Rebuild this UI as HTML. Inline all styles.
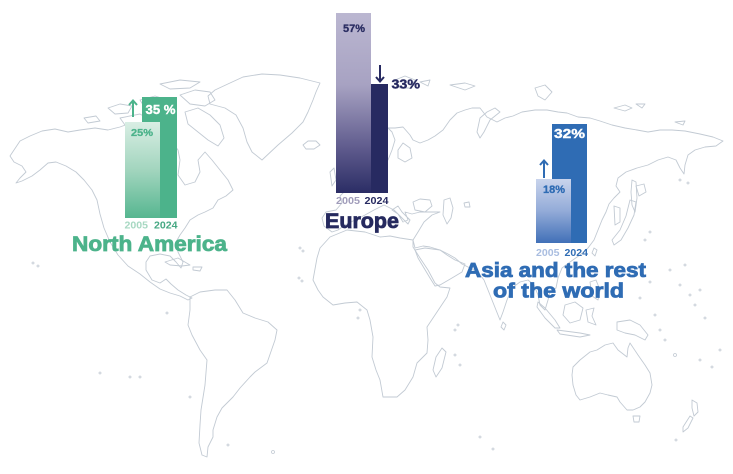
<!DOCTYPE html>
<html><head><meta charset="utf-8"><style>
html,body{margin:0;padding:0;background:#fff;}
svg{display:block;}
text{font-family:"Liberation Sans",Arial,sans-serif;font-weight:bold;}
</style></head><body>
<svg width="733" height="474" viewBox="0 0 733 474" xmlns="http://www.w3.org/2000/svg">
<defs>
<linearGradient id="gNA" x1="0" y1="0" x2="0" y2="1">
<stop offset="0" stop-color="#d9eee4"/><stop offset="0.5" stop-color="#a2d5be"/><stop offset="1" stop-color="#56b690"/>
</linearGradient>
<linearGradient id="gEU" x1="0" y1="0" x2="0" y2="1">
<stop offset="0" stop-color="#bbb7d1"/><stop offset="0.4" stop-color="#a7a2c2"/><stop offset="0.75" stop-color="#5f5b8d"/><stop offset="1" stop-color="#2b2d65"/>
</linearGradient>
<linearGradient id="gAS" x1="0" y1="0" x2="0" y2="1">
<stop offset="0" stop-color="#c9d4ec"/><stop offset="0.5" stop-color="#93abd8"/><stop offset="1" stop-color="#4170b8"/>
</linearGradient>
</defs>
<rect width="733" height="474" fill="#fff"/>

<g fill="none" stroke="#c2cad3" stroke-width="0.9" stroke-linejoin="round">
<path d="M14,150 L20,141 L30,136 L42,131 L55,129 L68,132 L80,130 L95,128 L108,130 L120,127 L128,124 L150,128 L165,135 L172,142 L178,150 L180,160 L178,175 L185,185 L195,182 L200,172 L198,160 L205,152 L212,160 L220,170 L228,180 L233,190 L226,196 L218,200 L213,208 L205,212 L198,215 L190,220 L185,228 L180,235 L176,242 L178,252 L183,262 L181,268 L176,262 L170,256 L160,254 L150,256 L146,262 L146,270 L152,280 L160,283 L166,279 L171,284 L178,290 L186,295 L192,298 L188,300 L180,296 L170,293 L160,289 L150,282 L140,274 L128,266 L118,255 L110,242 L104,228 L100,214 L97,200 L92,190 L84,180 L76,172 L66,166 L56,162 L48,163 L40,170 L32,176 L22,181 L16,183 L20,178 L26,172 L22,166 L14,162 L10,156 Z"/>
<path d="M108,108 L120,104 L132,106 L128,113 L115,114 Z"/>
<path d="M140,100 L155,96 L168,100 L160,108 L145,108 Z"/>
<path d="M180,95 L195,90 L210,92 L215,100 L205,106 L190,104 Z"/>
<path d="M185,112 L198,108 L210,115 L220,125 L224,138 L218,146 L208,140 L198,132 L188,124 Z"/>
<path d="M120,118 L140,114 L150,120 L140,126 L125,125 Z"/>
<path d="M160,84 L180,80 L200,82 L190,88 L170,89 Z"/>
<path d="M84,118 L96,116 L100,121 L88,123 Z"/>
<path d="M243,77 L262,74 L280,75 L300,78 L320,83 L316,92 L313,100 L308,112 L303,122 L292,133 L278,145 L262,160 L252,152 L247,142 L243,128 L236,115 L225,108 L210,104 L208,96 L215,90 L230,83 Z"/>
<path d="M303,145 L308,141 L316,141 L320,145 L314,149 L306,149 Z"/>
<path d="M165,262 L178,258 L190,265 L182,266 L170,265 Z"/>
<path d="M193,267 L202,267 L200,271 L193,270 Z"/>
<path d="M190,297 L200,292 L215,290 L227,290 L235,300 L243,313 L255,318 L268,322 L277,330 L275,340 L267,363 L255,372 L250,377 L240,388 L233,397 L222,408 L217,417 L213,430 L213,437 L208,447 L207,457 L202,455 L199,443 L200,425 L201,410 L205,385 L207,360 L200,350 L192,335 L188,325 L190,310 L190,303 Z"/>
<path d="M347,230 L330,237 L320,248 L317,258 L313,280 L318,290 L323,297 L333,305 L345,303 L357,302 L367,310 L370,320 L373,337 L372,357 L376,370 L380,380 L383,397 L397,397 L405,390 L413,377 L417,363 L427,353 L428,340 L427,327 L435,315 L447,297 L450,288 L440,287 L435,283 L428,270 L420,258 L413,247 L413,240 L400,238 L390,236 L380,237 L365,232 Z"/>
<path d="M442,348 L446,352 L442,368 L436,377 L433,370 L436,357 Z"/>
<path d="M332,232 L324,226 L322,218 L326,212 L336,210 L342,203 L340,196 L346,190 L352,185 L360,178 L370,172 L380,165 L388,160 L392,150 L395,140 L392,132 L388,128 L395,128 L403,127 L410,135 L413,140 L420,143 L428,140 L435,136 L443,130 L450,120 L457,113 L465,110 L472,108 L480,108 L487,117 L497,122 L505,118 L513,116 L522,112 L535,110 L547,110 L558,112 L567,113 L578,117 L590,118 L600,121 L612,125 L625,128 L637,130 L648,132 L660,130 L672,130 L685,131 L700,134 L713,137 L723,141 L716,146 L705,147 L695,150 L688,155 L685,165 L684,174 L680,168 L676,160 L668,157 L658,160 L648,165 L637,168 L626,172 L618,178 L616,186 L620,192 L614,198 L609,204 L606,212 L602,220 L598,230 L594,240 L588,248 L580,255 L570,262 L562,268 L558,278 L556,288 L550,292 L548,300 L545,310 L540,305 L538,295 L534,285 L528,280 L520,282 L512,288 L507,300 L503,312 L500,320 L496,310 L490,295 L484,280 L478,272 L470,268 L462,264 L455,258 L448,254 L440,250 L430,247 L423,246 L415,248 L413,240 L418,232 L424,222 L432,215 L440,212 L430,212 L420,212 L412,214 L405,212 L408,220 L403,222 L398,214 L392,210 L398,206 L402,212 L410,220 L408,224 L402,218 L394,210 L384,205 L374,210 L365,215 L355,220 L345,225 L338,230 Z"/>
<path d="M415,250 L425,248 L440,250 L447,255 L455,260 L465,264 L462,272 L452,278 L440,285 L435,286 L430,278 L424,268 L418,258 Z"/>
<path d="M413,202 L420,199 L430,200 L432,206 L425,212 L415,210 Z"/>
<path d="M444,200 L450,198 L453,208 L451,218 L447,224 L443,215 Z"/>
<path d="M464,203 L469,202 L470,207 L465,207 Z"/>
<path d="M398,150 L403,143 L410,148 L412,158 L405,162 L398,158 Z"/>
<path d="M330,172 L334,168 L336,180 L332,186 Z"/>
<path d="M480,118 L487,112 L495,108 L500,112 L490,120 L484,132 L480,138 L477,132 Z"/>
<path d="M395,80 L405,76 L415,80 L410,88 L400,88 Z"/>
<path d="M420,82 L430,80 L428,86 Z"/>
<path d="M450,85 L465,83 L475,86 L465,90 Z"/>
<path d="M535,88 L545,85 L552,92 L545,100 L538,96 Z"/>
<path d="M614,108 L625,105 L632,108 L625,111 Z"/>
<path d="M636,104 L645,104 L642,108 Z"/>
<path d="M675,122 L685,121 L683,125 Z"/>
<path d="M632,180 L636,182 L637,198 L635,212 L632,205 L631,192 Z"/>
<path d="M636,186 L644,184 L646,192 L639,196 Z"/>
<path d="M630,200 L636,202 L634,215 L628,228 L621,240 L614,245 L612,240 L620,230 L626,216 Z"/>
<path d="M614,206 L620,208 L620,222 L615,225 Z"/>
<path d="M594,248 L597,250 L595,256 L592,253 Z"/>
<path d="M503,322 L506,325 L504,330 L501,327 Z"/>
<path d="M538,302 L545,308 L555,320 L560,328 L555,328 L545,318 L537,307 Z"/>
<path d="M565,305 L575,302 L583,308 L580,320 L570,323 L563,315 Z"/>
<path d="M557,330 L580,333 L590,335 L580,337 L560,334 Z"/>
<path d="M586,310 L594,308 L592,316 L596,325 L588,322 Z"/>
<path d="M590,282 L596,280 L600,290 L598,300 L592,296 Z"/>
<path d="M617,322 L630,320 L640,325 L648,335 L645,340 L635,335 L625,333 L617,330 Z"/>
<path d="M573,367 L580,360 L590,352 L597,350 L605,345 L613,343 L618,350 L627,357 L628,348 L630,343 L638,355 L645,365 L650,373 L652,385 L650,393 L645,402 L640,407 L633,410 L627,410 L620,402 L617,397 L608,395 L600,393 L590,397 L580,400 L576,395 L573,385 L572,375 Z"/>
<path d="M633,416 L640,416 L639,422 L634,422 Z"/>
<path d="M692,400 L697,403 L698,412 L694,416 L692,408 Z"/>
<path d="M690,416 L693,418 L688,428 L683,432 L683,427 Z"/>
</g>
<g fill="none" stroke="#c2cad3" stroke-width="0.8">
<circle cx="33" cy="263" r="1"/><circle cx="38" cy="266" r="1"/><circle cx="100" cy="373" r="1"/><circle cx="130" cy="377" r="1"/><circle cx="140" cy="377" r="1"/><circle cx="190" cy="397" r="1"/><circle cx="167" cy="313" r="1"/><circle cx="228" cy="445" r="1"/><circle cx="273" cy="452" r="1.5"/>
<circle cx="300" cy="248" r="1"/><circle cx="303" cy="251" r="1"/><circle cx="299" cy="278" r="1"/><circle cx="302" cy="281" r="1"/><circle cx="360" cy="310" r="1"/><circle cx="358" cy="318" r="1"/><circle cx="455" cy="330" r="1"/><circle cx="458" cy="325" r="1"/><circle cx="455" cy="355" r="1"/><circle cx="460" cy="365" r="1"/>
<circle cx="680" cy="285" r="1"/><circle cx="690" cy="295" r="1"/><circle cx="695" cy="305" r="1"/><circle cx="700" cy="290" r="1"/><circle cx="705" cy="318" r="1"/><circle cx="720" cy="350" r="1"/><circle cx="675" cy="355" r="1.5"/><circle cx="700" cy="360" r="1"/><circle cx="712" cy="367" r="1"/><circle cx="660" cy="330" r="1"/><circle cx="655" cy="315" r="1"/><circle cx="665" cy="340" r="1"/><circle cx="640" cy="298" r="1"/><circle cx="650" cy="282" r="1"/><circle cx="685" cy="265" r="1"/><circle cx="670" cy="270" r="1"/>
<circle cx="480" cy="437" r="1"/><circle cx="493" cy="449" r="1"/><circle cx="676" cy="440" r="1"/><circle cx="645" cy="240" r="1"/><circle cx="650" cy="232" r="1"/><circle cx="680" cy="180" r="1"/><circle cx="688" cy="183" r="1"/>
</g>

<!-- North America bars -->
<rect x="142" y="97" width="35" height="121" fill="#4cb38b"/>
<rect x="125" y="122" width="35" height="96" fill="url(#gNA)"/>
<path d="M133,117 L133,101 M129,105 L133,100.5 L137,105" fill="none" stroke="#4cb38b" stroke-width="2"/>
<text x="145.5" y="114" font-size="13" fill="#fff" stroke="#fff" stroke-width="0.4" textLength="30" lengthAdjust="spacingAndGlyphs">35 %</text>
<text x="131" y="136" font-size="10.5" fill="#4cb38b" stroke="#4cb38b" stroke-width="0.3" textLength="22" lengthAdjust="spacingAndGlyphs">25%</text>
<text x="124.5" y="228.5" font-size="10" fill="#a7d8c2" textLength="23.5" lengthAdjust="spacingAndGlyphs">2005</text>
<text x="154" y="228.5" font-size="10" fill="#46a883" textLength="23.5" lengthAdjust="spacingAndGlyphs">2024</text>
<text x="72" y="251" font-size="21.5" fill="#4cb38b" stroke="#4cb38b" stroke-width="0.8" textLength="155" lengthAdjust="spacingAndGlyphs">North America</text>

<!-- Europe bars -->
<rect x="353" y="84" width="35" height="109" fill="#272a61"/>
<rect x="336" y="13" width="35" height="180" fill="url(#gEU)"/>
<path d="M380,65 L380,81 M376,77 L380,81.5 L384,77" fill="none" stroke="#272a61" stroke-width="2"/>
<text x="343" y="32" font-size="11" fill="#2a2d62" stroke="#2a2d62" stroke-width="0.3" textLength="22" lengthAdjust="spacingAndGlyphs">57%</text>
<text x="391.5" y="88.5" font-size="13" fill="#272a61" stroke="#272a61" stroke-width="0.4" textLength="28.5" lengthAdjust="spacingAndGlyphs">33%</text>
<text x="336" y="204" font-size="10" fill="#a09cba" textLength="24" lengthAdjust="spacingAndGlyphs">2005</text>
<text x="364.5" y="204" font-size="10" fill="#272a61" textLength="24" lengthAdjust="spacingAndGlyphs">2024</text>
<text x="325" y="228" font-size="21.5" fill="#262a5f" stroke="#262a5f" stroke-width="0.8" textLength="74" lengthAdjust="spacingAndGlyphs">Europe</text>

<!-- Asia bars -->
<rect x="552" y="124" width="35" height="119" fill="#2f6cb4"/>
<rect x="536" y="179" width="35" height="64" fill="url(#gAS)"/>
<path d="M544,178 L544,161 M540,165 L544,160.5 L548,165" fill="none" stroke="#2f6cb4" stroke-width="2"/>
<text x="554" y="138" font-size="13" fill="#fff" stroke="#fff" stroke-width="0.4" textLength="31" lengthAdjust="spacingAndGlyphs">32%</text>
<text x="543" y="193" font-size="11" fill="#2f6cb4" stroke="#2f6cb4" stroke-width="0.3" textLength="22" lengthAdjust="spacingAndGlyphs">18%</text>
<text x="536" y="256" font-size="10" fill="#a9bde0" textLength="23.5" lengthAdjust="spacingAndGlyphs">2005</text>
<text x="564.5" y="256" font-size="10" fill="#2f6cb4" textLength="23.5" lengthAdjust="spacingAndGlyphs">2024</text>
<text x="465" y="277" font-size="20.5" fill="#2f6cb4" stroke="#2f6cb4" stroke-width="0.8" textLength="181" lengthAdjust="spacingAndGlyphs">Asia and the rest</text>
<text x="493" y="297.5" font-size="20.5" fill="#2f6cb4" stroke="#2f6cb4" stroke-width="0.8" textLength="131" lengthAdjust="spacingAndGlyphs">of the world</text>
</svg>
</body></html>
